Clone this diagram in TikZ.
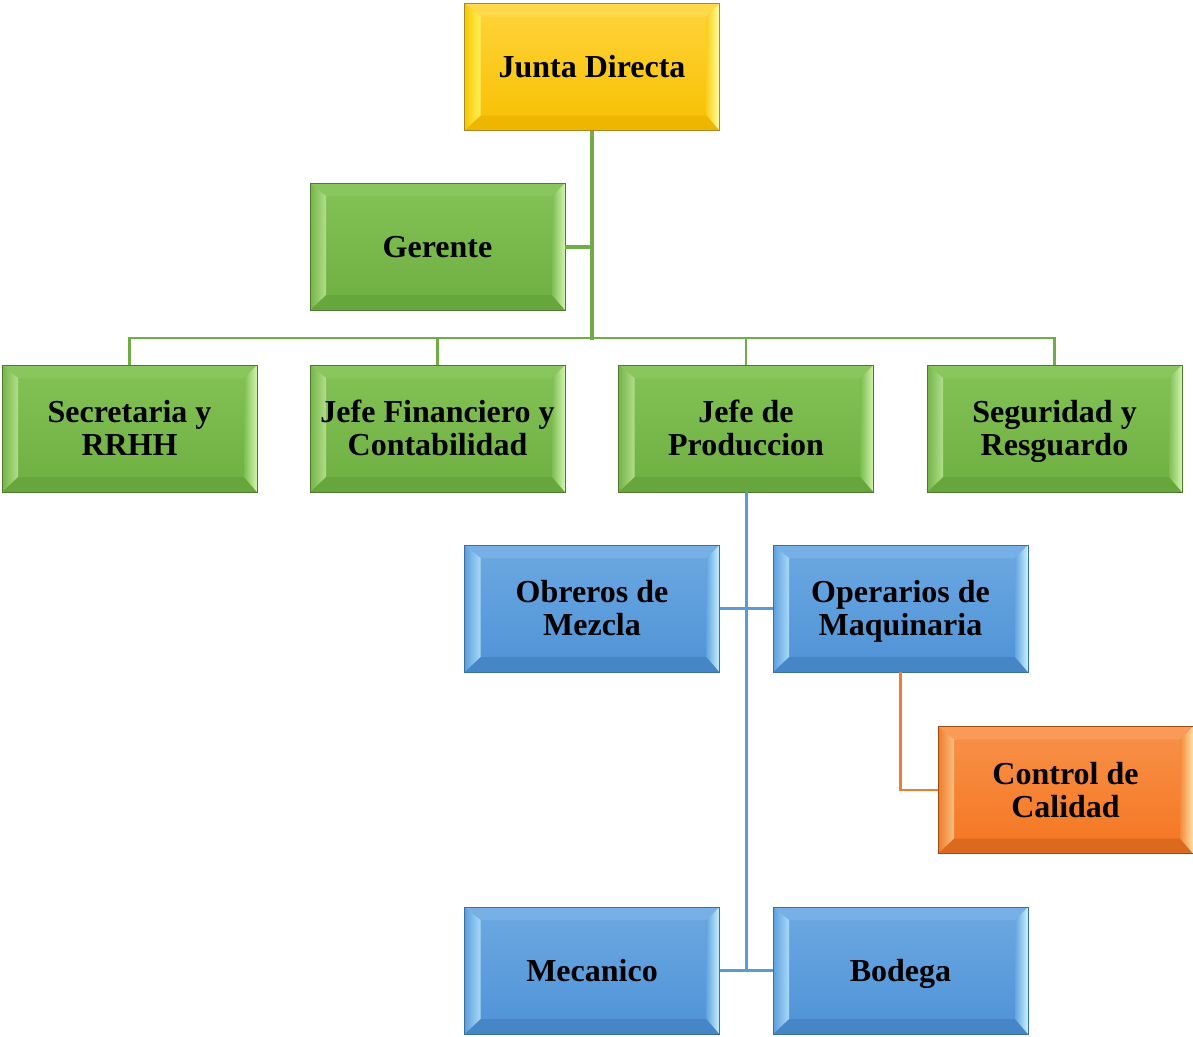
\documentclass[tikz,border=0pt]{standalone}
\usepackage{fontspec}
\setmainfont{Liberation Serif}
\usetikzlibrary{calc}
% yellow
\definecolor{Ytop}{HTML}{FFD43C}\definecolor{Ybot}{HTML}{F7C000}
\definecolor{YT}{HTML}{FFD84C}\definecolor{YB}{HTML}{EEB600}
\definecolor{YL1}{HTML}{F5C800}\definecolor{YL2}{HTML}{FFF05A}
\definecolor{YR1}{HTML}{FFFFA0}\definecolor{YR2}{HTML}{F8D020}
\definecolor{Ydraw}{HTML}{A8862A}
% green
\definecolor{Gtop}{HTML}{84C256}\definecolor{Gbot}{HTML}{6EAF42}
\definecolor{GT}{HTML}{8AC65E}\definecolor{GB}{HTML}{66A63C}
\definecolor{GL1}{HTML}{74B446}\definecolor{GL2}{HTML}{B2DE8C}
\definecolor{GR1}{HTML}{D2F4B0}\definecolor{GR2}{HTML}{7EBE52}
\definecolor{Gdraw}{HTML}{4E7A30}
% blue
\definecolor{Btop}{HTML}{6DA9E2}\definecolor{Bbot}{HTML}{4E92D6}
\definecolor{BT}{HTML}{76B0E6}\definecolor{BB}{HTML}{4686C6}
\definecolor{BL1}{HTML}{5C9EDC}\definecolor{BL2}{HTML}{A8DAF8}
\definecolor{BR1}{HTML}{C8F2FF}\definecolor{BR2}{HTML}{64A6E0}
\definecolor{Bdraw}{HTML}{3A6E9E}
% orange
\definecolor{Otop}{HTML}{F8914A}\definecolor{Obot}{HTML}{F47620}
\definecolor{OT}{HTML}{F99A56}\definecolor{OB}{HTML}{DC6A1E}
\definecolor{OL1}{HTML}{F07A28}\definecolor{OL2}{HTML}{FBC080}
\definecolor{OR1}{HTML}{FFE0A8}\definecolor{OR2}{HTML}{F48A3A}
\definecolor{Odraw}{HTML}{9E4A10}
% lines
\definecolor{Gline}{HTML}{70AD47}
\definecolor{Bline}{HTML}{5B9BD5}
\definecolor{Oline}{HTML}{ED7D31}

\newcommand\bevelfill[1]{%
 \path (path picture bounding box.south west) coordinate (bsw)
       (path picture bounding box.north east) coordinate (bne);
 \path (bsw) ++(16pt,15pt) coordinate (isw);
 \path (bne) ++(-13pt,-13pt) coordinate (ine);
 \shade[top color=#1top, bottom color=#1bot] (bsw) rectangle (bne);
 \fill[#1T] (bsw|-bne) -- (bne) -- (ine) -- (isw|-ine) -- cycle;
 \fill[#1B] (bsw) -- (bne|-bsw) -- (ine|-isw) -- (isw) -- cycle;
 \shade[left color=#1L1, right color=#1L2] (bsw) -- (isw) -- (isw|-ine) -- (bsw|-bne) -- cycle;
 \shade[left color=#1R2, right color=#1R1] (bne|-bsw) -- (bne) -- (ine) -- (ine|-isw) -- cycle;
}
\newcommand\ls{\rule[-9pt]{0pt}{39pt}}
\newcommand\boxfont{\fontsize{32}{33}\selectfont\bfseries\lineskiplimit=-100pt\relax}

\tikzset{
 orgbox/.style={minimum width=255pt, minimum height=127pt, inner sep=0pt, outer sep=0pt,
   align=center, line width=1pt, draw=#1draw, path picture={\bevelfill{#1}},
   font=\boxfont},
 gthick/.style={draw=Gline, line width=4pt},
 gthin/.style={draw=Gline, line width=2.5pt},
 bline/.style={draw=Bline, line width=3pt},
 oline/.style={draw=Oline, line width=2.5pt},
}

\begin{document}
\begin{tikzpicture}[x=1pt,y=-1pt]
\useasboundingbox (0,0) rectangle (1193,1036);
\node[orgbox=Y] (jd) at (592,67) {\ls Junta Directa};
\node[orgbox=G] (ger) at (437.5,246.5) {\ls Gerente};
\node[orgbox=G] (sec) at (129.5,428.5) {\ls Secretaria y\\\ls RRHH};
\node[orgbox=G] (fin) at (437.5,428.5) {\ls Jefe Financiero y\\\ls Contabilidad};
\node[orgbox=G] (prod) at (746,428.5) {\ls Jefe de\\\ls Produccion};
\node[orgbox=G] (seg) at (1054.5,428.5) {\ls Seguridad y\\\ls Resguardo};
\node[orgbox=B] (obr) at (592,608.5) {\ls Obreros de\\\ls Mezcla};
\node[orgbox=B] (ope) at (900.5,608.5) {\ls Operarios de\\\ls Maquinaria};
\node[orgbox=O] (cc) at (1065.5,790) {\ls Control de\\\ls Calidad};
\node[orgbox=B] (mec) at (592,970.5) {\ls Mecanico};
\node[orgbox=B] (bod) at (900.5,970.5) {\ls Bodega};

\coordinate (hub) at (592,338);
\draw[gthin] (hub) -| (sec.north);
\draw[gthin] (hub) -| (fin.north);
\draw[gthin] (hub) -| (prod.north);
\draw[gthin] (hub) -| (seg.north);
\draw[gthick] (jd.south) -- ([yshift=-1.5pt]hub);
\draw[gthick] (ger.east) -- (ger.east -| hub);

\draw[bline] (prod.south) -- (prod.south |- mec.east);
\draw[bline] (obr.east) -- (ope.west);
\draw[bline] (mec.east) -- (bod.west);

\draw[oline] (ope.south) |- (cc.west);
\end{tikzpicture}
\end{document}
